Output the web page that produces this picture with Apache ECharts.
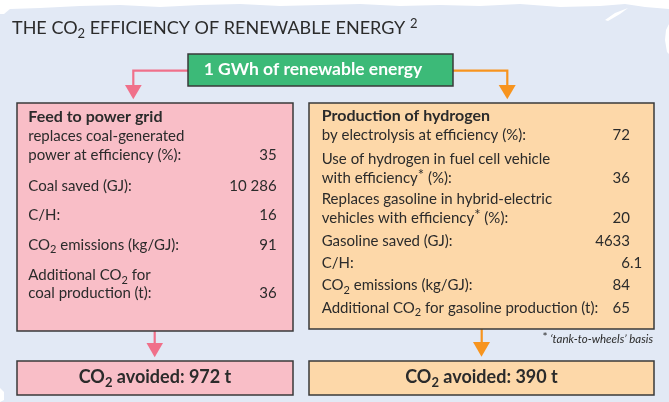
<!DOCTYPE html>
<html><head><meta charset="utf-8">
<script src="https://cdn.jsdelivr.net/npm/echarts@6/dist/echarts.min.js"></script>
<style>html,body{margin:0;padding:0;background:#e2e9f5}#c{width:669px;height:402px}</style>
</head><body><div id="c"></div><script>
// ---- content ----
const titleMain = 'THE CO{s|2} EFFICIENCY OF RENEWABLE ENERGY {p|2}';
const sourceLabel = '1 GWh of renewable energy';
const gridHeading = 'Feed to power grid';
const gridLabels = [
  ['replaces coal-generated', 'power at efficiency (%):'],
  ['Coal saved (GJ):'],
  ['C/H:'],
  ['CO{s|2} emissions (kg/GJ):'],
  ['Additional CO{s|2} for', 'coal production (t):']
];
const gridValues = ['35', '10 286', '16', '91', '36'];
const hydrogenHeading = 'Production of hydrogen';
const hydrogenLabels = [
  ['by electrolysis at efficiency (%):'],
  ['Use of hydrogen in fuel cell vehicle', 'with efficiency{a|*} (%):'],
  ['Replaces gasoline in hybrid-electric', 'vehicles with efficiency{a|*} (%):'],
  ['Gasoline saved (GJ):'],
  ['C/H:'],
  ['CO{s|2} emissions (kg/GJ):'],
  ['Additional CO{s|2} for gasoline production (t):']
];
const hydrogenValues = ['72', '36', '20', '4633', '6.1', '84', '65'];
const co2AvoidedTonnes = [972, 390];
const footnote = "{a|*} \u2018tank-to-wheels\u2019 basis";

// ---- layout ----
const FONT = 'Lato';
const INK = '#2b2b2b';
const BODY = 15;
const leftRowBaselines = [[141.7, 161], [191.7], [220.7], [250.7], [281, 299]];
const rightRowBaselines = [[141], [165, 183.3], [205, 223.3], [246.7], [268.3], [291], [313.3]];

function richFor(size, weight, color, italic) {
  const fs = italic ? 'italic' : 'normal';
  return {
    s: {fontFamily: FONT, fontSize: Math.round(size * 0.72), fontWeight: weight, fontStyle: fs, fill: color, lineHeight: Math.round(size * 0.72), verticalAlign: 'bottom'},
    p: {fontFamily: FONT, fontSize: Math.round(size * 0.72), fontWeight: weight, fontStyle: fs, fill: color, lineHeight: Math.round(size * 0.72), verticalAlign: 'top'},
    a: {fontFamily: FONT, fontSize: Math.round(size * 1.0), fontWeight: weight, fontStyle: 'normal', fill: color, lineHeight: Math.round(size * 0.9), verticalAlign: 'top'}
  };
}
function txt(x, baseline, text, o) {
  o = o || {};
  const size = o.size || BODY;
  const weight = o.weight || 'normal';
  const color = o.color || INK;
  const lh = Math.round(size * 1.3);
  return {
    type: 'text', x: x, y: baseline - size * 0.36, z: 10,
    style: {
      text: text, fontFamily: FONT, fontSize: size, fontWeight: weight, fontStyle: o.italic ? 'italic' : 'normal',
      fill: color, align: o.align || 'left', verticalAlign: 'middle', lineHeight: lh,
      rich: richFor(size, weight, color, o.italic)
    }
  };
}
function valueTxt(x, baseline, v, size) {
  // decimal-aligned value
  const parts = String(v).split('.');
  const out = [txt(x, baseline, parts[0], {size: size, align: 'right'})];
  if (parts.length > 1) out.push(txt(x, baseline, '.' + parts[1], {size: size, align: 'left'}));
  return out;
}
const els = [];
els.push({type: 'rect', shape: {x: 0, y: 0, width: 669, height: 402}, style: {fill: '#e2e9f5'}, z: 0});
// torn paper edge
els.push({type: 'polygon', z: 1, shape: {points: [[0,0],[669,0],[669,9],[645,7],[625,4],[600,6],[560,7],[520,4],[480,6],[440,5],[400,6],[360,4],[320,5],[280,6],[240,4],[200,5],[160,7],[120,5],[80,6],[40,8],[10,9],[4,14],[0,14]]}, style: {fill: '#ffffff'}});
els.push({type: 'polygon', z: 1, shape: {points: [[669,24],[666,30],[665,40],[667,52],[669,54]]}, style: {fill: '#ffffff'}});
els.push({type: 'polygon', z: 1, shape: {points: [[605,20],[615,13],[628,8],[620,14],[608,21]]}, style: {fill: '#ffffff'}});
els.push({type: 'polygon', z: 1, shape: {points: [[0,388],[4,392],[4,400],[0,402]]}, style: {fill: '#ffffff'}});

// title
els.push(txt(12, 35, titleMain, {size: 18}));

// arrows from source
const PINK = '#f0708a', ORANGE = '#f7941e';
els.push({type: 'polyline', z: 3, shape: {points: [[188, 70.7], [133.3, 70.7], [133.3, 86]]}, style: {stroke: PINK, lineWidth: 2.2, fill: null}});
els.push({type: 'polygon', z: 3, shape: {points: [[125, 85], [141.7, 85], [133.3, 99.3]]}, style: {fill: PINK}});
els.push({type: 'polyline', z: 3, shape: {points: [[453, 70.7], [507.3, 70.7], [507.3, 86]]}, style: {stroke: ORANGE, lineWidth: 2.2, fill: null}});
els.push({type: 'polygon', z: 3, shape: {points: [[498.7, 85], [515.7, 85], [507.3, 99.3]]}, style: {fill: ORANGE}});
// source box
els.push({type: 'rect', z: 4, shape: {x: 188, y: 54, width: 265, height: 32}, style: {fill: '#3cba78', stroke: '#3a3a3a', lineWidth: 1.5}});
els.push(txt(313, 75.5, sourceLabel, {size: 17.5, weight: 'bold', color: '#ffffff', align: 'center'}));

// main boxes
els.push({type: 'rect', z: 4, shape: {x: 17, y: 103, width: 276, height: 228}, style: {fill: '#f9bec7', stroke: '#3a3a3a', lineWidth: 1.5}});
els.push({type: 'rect', z: 4, shape: {x: 309, y: 103, width: 345, height: 226}, style: {fill: '#fdd8a9', stroke: '#3a3a3a', lineWidth: 1.5}});

els.push(txt(28.3, 122.7, gridHeading, {size: 16, weight: 'bold'}));
gridLabels.forEach((lines, i) => {
  lines.forEach((l, j) => els.push(txt(28.3, leftRowBaselines[i][j], l)));
  valueTxt(276.7, leftRowBaselines[i][lines.length - 1], gridValues[i], BODY).forEach(e => els.push(e));
});
els.push(txt(321.7, 121.7, hydrogenHeading, {size: 16, weight: 'bold'}));
hydrogenLabels.forEach((lines, i) => {
  lines.forEach((l, j) => els.push(txt(321.7, rightRowBaselines[i][j], l)));
  valueTxt(630, rightRowBaselines[i][lines.length - 1], hydrogenValues[i], BODY).forEach(e => els.push(e));
});
els.push(txt(653, 343, footnote, {size: 11.5, italic: true, align: 'right'}));

// lower arrows
els.push({type: 'line', z: 3, shape: {x1: 154.7, y1: 331, x2: 154.7, y2: 344}, style: {stroke: PINK, lineWidth: 2.2}});
els.push({type: 'polygon', z: 3, shape: {points: [[146.5, 343], [163, 343], [154.7, 357.3]]}, style: {fill: PINK}});
els.push({type: 'line', z: 3, shape: {x1: 481.7, y1: 329, x2: 481.7, y2: 343}, style: {stroke: ORANGE, lineWidth: 2.2}});
els.push({type: 'polygon', z: 3, shape: {points: [[473, 342], [490, 342], [481.5, 356.7]]}, style: {fill: ORANGE}});

// result boxes
els.push({type: 'rect', z: 4, shape: {x: 17, y: 361, width: 276, height: 34}, style: {fill: '#f9bec7', stroke: '#3a3a3a', lineWidth: 1.5}});
els.push({type: 'rect', z: 4, shape: {x: 309, y: 361, width: 345, height: 34}, style: {fill: '#fdd8a9', stroke: '#3a3a3a', lineWidth: 1.5}});
els.push(txt(155, 384, 'CO{s|2} avoided: ' + co2AvoidedTonnes[0] + ' t', {size: 18, weight: 'bold', align: 'center'}));
els.push(txt(481.5, 384, 'CO{s|2} avoided: ' + co2AvoidedTonnes[1] + ' t', {size: 18, weight: 'bold', align: 'center'}));

const chart = echarts.init(document.getElementById('c'), null, {renderer: 'canvas'});
chart.setOption({animation: false, graphic: {elements: els}});
</script></body></html>
